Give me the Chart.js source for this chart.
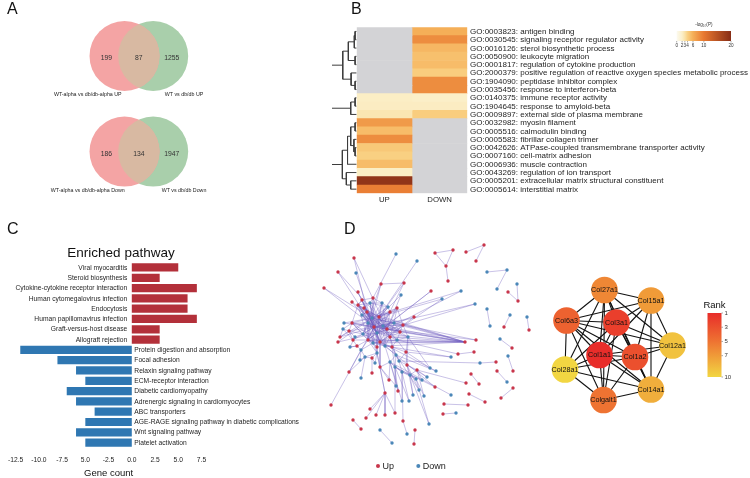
<!DOCTYPE html>
<html>
<head>
<meta charset="utf-8">
<script src="https://cdn.jsdelivr.net/npm/chart.js@4.4.1/dist/chart.umd.min.js"></script>
<style>
  html, body { margin: 0; padding: 0; background: #fff; }
  #fig { position: relative; width: 750px; height: 478px; overflow: hidden;
         font-family: 'Liberation Sans', Arial, Helvetica, sans-serif; }
  #fig canvas { position: absolute; }
  .tag { position: absolute; font-size: 16px; line-height: 16px; color: #111; }
</style>
</head>
<body>
<div id="fig">
  <canvas id="venn"   width="330" height="235" style="left:0;top:0"></canvas>
  <canvas id="dendro" width="25"  height="235" style="left:332px;top:0"></canvas>
  <canvas id="heat"   width="394" height="235" style="left:356px;top:0"></canvas>
  <canvas id="path"   width="310" height="240" style="left:0;top:240px"></canvas>
  <canvas id="net"    width="250" height="238" style="left:300px;top:240px"></canvas>
  <canvas id="hub"    width="210" height="160" style="left:540px;top:260px"></canvas>
  <div class="tag" style="left:7px;top:1px">A</div>
  <div class="tag" style="left:351px;top:1px">B</div>
  <div class="tag" style="left:7px;top:221px">C</div>
  <div class="tag" style="left:344px;top:221px">D</div>
</div>
<script>
// ── Panel A: Venn counts ─────────────────────────
const VENN_LEFT_NAMES  = ['WT-alpha vs db/db-alpha UP', 'WT-alpha vs db/db-alpha Down'];
const VENN_RIGHT_NAMES = ['WT vs db/db UP', 'WT vs db/db Down'];
const VENN_ONLY_LEFT   = [199, 186];
const VENN_SHARED      = [87, 134];
const VENN_ONLY_RIGHT  = [1255, 1947];

// ── Panel B: GO enrichment heatmap (-log10 P, null = not enriched) ──
const GO_TERMS = [
  'GO:0003823: antigen binding',
  'GO:0030545: signaling receptor regulator activity',
  'GO:0016126: sterol biosynthetic process',
  'GO:0050900: leukocyte migration',
  'GO:0001817: regulation of cytokine production',
  'GO:2000379: positive regulation of reactive oxygen species metabolic process',
  'GO:1904090: peptidase inhibitor complex',
  'GO:0035456: response to interferon-beta',
  'GO:0140375: immune receptor activity',
  'GO:1904645: response to amyloid-beta',
  'GO:0009897: external side of plasma membrane',
  'GO:0032982: myosin filament',
  'GO:0005516: calmodulin binding',
  'GO:0005583: fibrillar collagen trimer',
  'GO:0042626: ATPase-coupled transmembrane transporter activity',
  'GO:0007160: cell-matrix adhesion',
  'GO:0006936: muscle contraction',
  'GO:0043269: regulation of ion transport',
  'GO:0005201: extracellular matrix structural constituent',
  'GO:0005614: interstitial matrix'
];
const HEAT_COLUMNS = ['UP', 'DOWN'];
const UP_LOGP   = [null, null, null, null, null, null, null, null, 2.1, 2.2, 2.7, 7.5, 5.2, 8.5, 4.5, 4.0, 5.2, 2.1, 19, 9.5];
const DOWN_LOGP = [6.0, 8.5, 5.5, 5.0, 5.2, 4.2, 8.5, 8.5, 2.0, 2.2, 4.2, null, null, null, null, null, null, null, null, null];
const LOGP_TICKS = [0, 2, 3, 4, 6, 10, 20];
// dendrogram merges: [child, child, height]; leaves are rows 0-19, merges numbered from 20
const DENDRO_MERGES = [
  [0, 1, 0.4], [20, 2, 0.6], [3, 4, 0.4], [21, 22, 2.1], [6, 7, 0.4], [5, 24, 1.4], [23, 25, 3.5],
  [8, 9, 0.4], [27, 10, 1.5],
  [11, 12, 0.4], [14, 15, 0.4], [13, 30, 0.7], [29, 31, 1.5], [18, 19, 1.5], [32, 16, 2.3], [17, 33, 2.6], [34, 35, 3.6],
  [26, 28, 8], [37, 36, 9]
];

// ── Panel C: enriched pathways ───────────────────
const PATHWAYS = [
  'Viral myocarditis', 'Steroid biosynthesis', 'Cytokine-cytokine receptor interaction',
  'Human cytomegalovirus infection', 'Endocytosis', 'Human papillomavirus infection',
  'Graft-versus-host disease', 'Allograft rejection',
  'Protein digestion and absorption', 'Focal adhesion', 'Relaxin signaling pathway',
  'ECM-receptor interaction', 'Diabetic cardiomyopathy', 'Adrenergic signaling in cardiomyocytes',
  'ABC transporters', 'AGE-RAGE signaling pathway in diabetic complications',
  'Wnt signaling pathway', 'Platelet activation'
];
const GENE_COUNTS = [5, 3, 7, 6, 6, 7, 3, 3, -12, -8, -6, -5, -7, -6, -4, -5, -6, -5];
const COUNT_TICKS = ['-12.5', '-10.0', '-7.5', '5.0', '-2.5', '0.0', '2.5', '5.0', '7.5'];

// ── Panel D: PPI network (layout coordinates) ────
const NET_NODES = [
  ['p0',24,48,'u'],['p1',38,32,'u'],['p2',54,18,'u'],['p3',56,33,'d'],['p4',96,14,'d'],['p5',117,21,'d'],
  ['p6',81,44,'u'],['p7',104,43,'u'],['p8',58,52,'u'],['p9',101,55,'d'],['p10',52,62,'u'],['p11',131,51,'u'],
  ['p12',114,77,'u'],['p13',44,83,'d'],['p14',38,102,'u'],['p15',135,13,'u'],['p16',153,10,'u'],['p17',146,26,'u'],
  ['p18',148,41,'u'],['p19',166,12,'u'],['p20',184,5,'u'],['p21',176,21,'u'],['p22',187,32,'d'],['p23',207,30,'d'],
  ['p24',197,49,'d'],['p25',217,44,'d'],['p26',208,52,'u'],['p27',218,61,'u'],['p28',161,51,'d'],['p29',142,59,'d'],
  ['p30',175,64,'d'],['p31',187,69,'d'],['p32',190,86,'d'],['p33',210,75,'d'],['p34',204,87,'u'],['p35',227,77,'d'],
  ['p36',229,90,'u'],['p37',165,102,'u'],['p38',176,100,'u'],['p39',200,99,'d'],['p40',212,108,'u'],['p41',158,114,'u'],
  ['p42',174,112,'u'],['p43',151,117,'d'],['p44',180,123,'d'],['p45',196,122,'u'],['p46',136,131,'d'],['p47',171,134,'u'],
  ['p48',179,144,'u'],['p49',197,131,'u'],['p50',207,142,'d'],['p51',166,143,'u'],['p52',135,147,'u'],['p53',151,155,'d'],
  ['p54',169,154,'u'],['p55',185,162,'u'],['p56',213,148,'u'],['p57',201,158,'u'],['p58',144,164,'u'],['p59',168,165,'u'],
  ['p60',143,174,'u'],['p61',156,173,'d'],['p62',208,116,'d'],['p63',213,131,'u'],['p64',49,132,'u'],['p65',72,133,'u'],
  ['p66',61,138,'d'],['p67',89,140,'u'],['p68',31,165,'u'],['p69',85,153,'u'],['p70',70,169,'u'],['p71',76,175,'u'],
  ['p72',85,175,'u'],['p73',95,173,'u'],['p74',53,180,'u'],['p75',66,178,'u'],['p76',61,189,'u'],['p77',80,190,'d'],
  ['p78',92,203,'d'],['p79',103,181,'u'],['p80',107,194,'d'],['p81',115,190,'u'],['p82',114,204,'u'],['p83',129,184,'d'],
  ['p84',102,161,'d'],['p85',109,161,'d'],['p86',113,155,'d'],['p87',124,156,'d'],['p88',119,150,'d'],['p89',96,146,'d'],
  ['p90',127,137,'d'],['p91',130,128,'d'],['p92',98,151,'u'],
  ['c0',58,65,'u'],['c1',67,72,'u'],['c2',72,78,'d'],['c3',79,77,'u'],['c4',68,83,'d'],['c5',74,87,'u'],
  ['c6',83,86,'d'],['c7',87,89,'u'],['c8',77,93,'d'],['c9',90,97,'u'],['c10',63,94,'d'],['c11',49,91,'u'],
  ['c12',43,89,'d'],['c13',52,83,'u'],['c14',53,100,'u'],['c15',57,106,'u'],['c16',61,110,'d'],['c17',68,100,'u'],
  ['c18',73,103,'d'],['c19',80,102,'u'],['c20',85,106,'d'],['c21',92,107,'u'],['c22',97,100,'d'],['c23',100,92,'u'],
  ['c24',94,83,'d'],['c25',103,85,'u'],['c26',108,97,'d'],['c27',77,113,'d'],['c28',72,118,'u'],['c29',65,117,'d'],
  ['c30',96,115,'d'],['c31',99,121,'d'],['c32',106,112,'u'],['c33',90,122,'d'],['c34',95,127,'d'],['c35',107,125,'u'],
  ['c36',102,132,'d'],['c37',110,135,'d'],['c38',117,130,'u'],['c39',116,139,'d'],['c40',122,140,'d'],['c41',80,127,'u'],
  ['c42',75,123,'d'],['c43',64,68,'u'],['c44',62,75,'d'],['c45',90,72,'u'],['c46',88,67,'d'],['c47',97,68,'u'],
  ['c48',70,63,'d'],['c49',73,58,'u'],['c50',62,60,'u'],['c51',82,63,'d'],['c52',77,107,'u'],['c53',55,97,'d'],
  ['c54',50,107,'d'],['c55',60,120,'d'],['c56',40,97,'u']
];
// each entry: a node followed by the nodes it is linked to
const NET_LINKS = [
  'p15 p16 p17', 'p16 p17', 'p17 p18', 'p19 p20', 'p20 p21', 'p22 p23', 'p23 p24', 'p25 p27', 'p26 p27',
  'p31 p32', 'p33 p34', 'p35 p36', 'p39 p40', 'p62 p63', 'p44 p45 c31', 'p41 p42 c22', 'p47 p48', 'p49 p50',
  'p54 p55', 'p56 p57', 'p58 p59', 'p60 p61', 'p77 p78', 'p79 p80 c36', 'p81 p82', 'p74 p76',
  'p0 c5 c2', 'p1 c8 c3', 'p2 c1 c7', 'p3 c5', 'p4 c49', 'p5 c3', 'p6 p7 c2 c10', 'p7 c3 c6', 'p8 c5 c1',
  'p9 c7 c3', 'p10 c8 c2', 'p11 c8 c17', 'p12 c5 c19', 'p13 c2 c7', 'p14 c2 c8', 'p28 c7 c2', 'p29 c3 c19',
  'p30 c8 c5', 'p37 c1 c2 c3 c5 c6 c7 c8 c9 c17 c18 c19 c20 c22 c23 c25', 'p38 c7 c25', 'p43 c21 c32',
  'p46 c19 c30', 'p52 c20 c34', 'p53 c33', 'p51 c38', 'p68 c5', 'p64 c16 c29', 'p65 c28', 'p66 c29',
  'p67 c41 c33', 'p69 c41 c27 p70 p71 p72 p73 p75', 'p83 c37 c39', 'p84 c33 c36', 'p85 c34 c36',
  'p86 c37 c35', 'p87 c38 c39', 'p88 c35 c30', 'p89 c34 c41', 'p90 c35 c38', 'p91 c32 c26', 'p92 c33 c21',
  'p73 c34',
  'c0 c1 c2 c5 c8 c13 c48 c50 c3 c7 c17 c19', 'c1 c2 c3 c4 c5 c7 c44 c8 c9 c19 c23',
  'c2 c3 c4 c5 c6 c8 c9 c17 c19 c24 c7 c18 c20 c22 c25', 'c3 c5 c6 c7 c8 c45 c46 c51 c9 c17 c19 c23 c24',
  'c4 c5 c8 c10 c13 c17 c7 c19 c18', 'c5 c6 c7 c8 c9 c10 c11 c17 c18 c19 c24 c25',
  'c6 c7 c8 c9 c23 c24 c25 c17 c19 c20', 'c7 c8 c9 c19 c20 c22 c23 c26', 'c8 c9 c10 c17 c18 c19 c27 c23 c24 c25',
  'c9 c19 c20 c21 c22 c23 c30 c24 c25 c26', 'c10 c11 c13 c14 c17 c53 c19 c5 c2', 'c11 c12 c13 c14 c56',
  'c12 c13 c14', 'c13 c5 c2 c17 c19 c7', 'c14 c15 c17 c53', 'c15 c16 c17 c54', 'c16 c17 c18 c29 c55',
  'c17 c18 c19 c52 c27 c20 c21 c22', 'c18 c19 c20 c27 c52', 'c19 c20 c21 c22 c41', 'c20 c21 c30 c33',
  'c21 c22 c30 c31 c32', 'c22 c23 c26 c32', 'c23 c24 c25 c26', 'c24 c25 c47', 'c25 c26 c47',
  'c26 c32 c35', 'c27 c28 c29 c42 c41', 'c28 c29 c42', 'c30 c31 c33 c34', 'c31 c32 c35 c36', 'c32 c35',
  'c33 c34 c36 c41', 'c34 c36 c37', 'c35 c37 c38', 'c36 c37 c39', 'c37 c38 c39 c40', 'c38 c40',
  'c43 c0 c1 c2 c5 c48 c3 c7 c8', 'c44 c1 c2 c4 c5 c7 c8', 'c45 c46 c47 c3 c7 c5 c8 c2', 'c46 c51 c48 c2 c5',
  'c47 c5 c2 c7', 'c48 c49 c51 c2 c5 c7 c8', 'c49 c50 c51 c2 c5', 'c50 c0 c2 c5 c8', 'c51 c7 c5 c8 c2',
  'c53 c54 c11', 'c54 c15', 'c55 c29', 'c56 c12 c2 c5'
];
const NET_GROUPS = ['Up', 'Down'];

// hub genes (top 10 by rank)
const HUB_GENES = ['Col27a1', 'Col15a1', 'Col6a3', 'Col3a1', 'Col12a1', 'Col1a1', 'Col1a2', 'Col28a1', 'Col14a1', 'Colgalt1'];
const HUB_X     = [64.5, 111, 26.5, 76.5, 132.5, 59.5, 95, 25, 111, 63.5];
const HUB_Y     = [30, 40.5, 60.5, 62.5, 85.5, 95, 97, 109.5, 129.5, 140];
const HUB_RANK  = [6, 7, 4, 2, 9, 1, 3, 10, 8, 5];
const HUB_LINKS = [
  'Col27a1 Col15a1 Col6a3 Col3a1 Col1a1 Col1a2 Col12a1 Col28a1 Colgalt1 Col14a1',
  'Col15a1 Col3a1 Col1a1 Col1a2 Col12a1 Col6a3 Col14a1',
  'Col6a3 Col3a1 Col1a1 Col1a2 Col12a1 Col28a1 Colgalt1 Col14a1',
  'Col3a1 Col1a1 Col1a2 Col12a1 Col28a1 Colgalt1 Col14a1',
  'Col1a1 Col1a2 Col12a1 Col28a1 Colgalt1 Col14a1',
  'Col1a2 Col12a1 Col28a1 Colgalt1 Col14a1',
  'Col28a1 Colgalt1 Col14a1', 'Colgalt1 Col14a1', 'Col12a1 Col14a1'
];
const RANK_TICKS = [1, 3, 5, 7, 10];

// ── styling ──────────────────────────────────────
const FONT = "'Liberation Sans', Arial, Helvetica, sans-serif";
const font = px => px + 'px ' + FONT;
const LOGP_STOPS = [[0, [252, 250, 240]], [2, [251, 239, 200]], [3, [250, 226, 168]], [4, [249, 208, 130]],
                    [6, [245, 175, 88]], [10, [232, 120, 48]], [20, [135, 45, 22]]];
const RANK_STOPS = [[1, [232, 45, 42]], [5, [238, 115, 50]], [10, [242, 214, 66]]];
const NA_GREY = '#d3d3d6';
const UP_RED = '#c8364b', DOWN_BLUE = '#4b87b8';

function rampColor(stops, v) {
  if (v <= stops[0][0]) return 'rgb(' + stops[0][1].join(',') + ')';
  for (let i = 1; i < stops.length; i++) {
    const [v1, c1] = stops[i], [v0, c0] = stops[i - 1];
    if (v <= v1) {
      const t = (v - v0) / (v1 - v0);
      return 'rgb(' + c0.map((c, k) => Math.round(c + t * (c1[k] - c))).join(',') + ')';
    }
  }
  return 'rgb(' + stops[stops.length - 1][1].join(',') + ')';
}
const logpColor = v => v == null ? NA_GREY : rampColor(LOGP_STOPS, v);

Chart.defaults.font.family = FONT;
Chart.defaults.animation = false;
Chart.defaults.responsive = false;
Chart.defaults.events = [];
Chart.defaults.layout.autoPadding = false;
Chart.defaults.plugins.legend.display = false;
Chart.defaults.plugins.tooltip.enabled = false;

// ── A: Venn diagrams ─────────────────────────────
const VENN_R = 35;          // circle radius, px
const VENN_STEP = 0.82;     // centre spacing, radii
const VENN_ROW = 2.73;      // spacing of the two diagrams, radii

new Chart(document.getElementById('venn'), {
  type: 'scatter',
  data: {
    datasets: [
      { data: VENN_ONLY_LEFT.map((_, i) => ({ x: 0, y: i * VENN_ROW })), pointBackgroundColor: '#f4a4a4' },
      { data: VENN_ONLY_RIGHT.map((_, i) => ({ x: VENN_STEP, y: i * VENN_ROW })), pointBackgroundColor: '#a9cfab' }
    ]
  },
  options: {
    datasets: { scatter: { pointRadius: VENN_R, pointBorderWidth: 0, clip: false } },
    layout: { padding: 0 },
    scales: {
      x: { display: false, min: -3.557, max: 5.871 },
      y: { display: false, min: -1.6, max: 5.114, reverse: true }
    }
  },
  plugins: [{
    id: 'vennText',
    afterDatasetsDraw(chart) {
      const { ctx } = chart, xs = chart.scales.x, ys = chart.scales.y;
      const left = chart.getDatasetMeta(0).data, right = chart.getDatasetMeta(1).data;
      left.forEach((p, i) => {
        const q = right[i];
        ctx.save();
        ctx.beginPath(); ctx.arc(p.x, p.y, VENN_R, 0, Math.PI * 2); ctx.clip();
        ctx.beginPath(); ctx.arc(q.x, q.y, VENN_R, 0, Math.PI * 2);
        ctx.fillStyle = '#d8b9a2'; ctx.fill();
        ctx.restore();

        const cy = i * VENN_ROW;
        ctx.save();
        ctx.textAlign = 'center'; ctx.textBaseline = 'middle';
        ctx.fillStyle = '#333'; ctx.font = font(6.8);
        ctx.fillText(VENN_ONLY_LEFT[i], xs.getPixelForValue(-0.52), ys.getPixelForValue(cy + 0.06));
        ctx.fillText(VENN_SHARED[i], xs.getPixelForValue(VENN_STEP / 2), ys.getPixelForValue(cy + 0.06));
        ctx.fillText(VENN_ONLY_RIGHT[i], xs.getPixelForValue(VENN_STEP + 0.53), ys.getPixelForValue(cy + 0.06));
        ctx.font = font(5.3); ctx.fillStyle = '#222';
        ctx.fillText(VENN_LEFT_NAMES[i], xs.getPixelForValue(-1.05), ys.getPixelForValue(cy + 1.1));
        ctx.fillText(VENN_RIGHT_NAMES[i], xs.getPixelForValue(1.7), ys.getPixelForValue(cy + 1.1));
        ctx.restore();
      });
    }
  }]
});

// ── B: dendrogram ────────────────────────────────
function dendroSegments() {
  const pos = GO_TERMS.map((_, i) => [0, i]);
  return DENDRO_MERGES.map(([a, b, h]) => {
    const A = pos[a], B = pos[b];
    pos.push([h, (A[1] + B[1]) / 2]);
    return [{ x: A[0], y: A[1] }, { x: h, y: A[1] }, { x: h, y: B[1] }, { x: B[0], y: B[1] }];
  });
}

new Chart(document.getElementById('dendro'), {
  type: 'scatter',
  data: {
    datasets: dendroSegments().map(seg => ({
      data: seg, showLine: true, borderColor: '#3c3c3c', borderWidth: 1, pointRadius: 0
    }))
  },
  options: {
    layout: { padding: { left: 0, right: 0.3, top: 27.3, bottom: 41.7 } },
    scales: {
      x: { display: false, min: 0, max: 6.2, reverse: true },
      y: { display: false, min: -0.5, max: GO_TERMS.length - 0.5, reverse: true }
    }
  }
});

// ── B: heatmap ───────────────────────────────────
new Chart(document.getElementById('heat'), {
  type: 'bar',
  data: {
    labels: GO_TERMS,
    datasets: [
      { label: HEAT_COLUMNS[0], data: GO_TERMS.map(() => 1), backgroundColor: UP_LOGP.map(logpColor) },
      { label: HEAT_COLUMNS[1], data: GO_TERMS.map(() => 1), backgroundColor: DOWN_LOGP.map(logpColor) }
    ]
  },
  options: {
    indexAxis: 'y',
    datasets: { bar: { barPercentage: 1, categoryPercentage: 1, borderWidth: 0 } },
    layout: { padding: { left: 0.7, right: 282.7, top: 27.3, bottom: 41.7 } },
    scales: {
      x: { display: false, stacked: true, min: 0, max: 2 },
      y: { display: false, stacked: true }
    }
  },
  plugins: [{
    id: 'heatText',
    afterDraw(chart) {
      const { ctx, chartArea } = chart, xs = chart.scales.x, ys = chart.scales.y;
      ctx.save();
      ctx.fillStyle = '#1e1e1e'; ctx.textBaseline = 'middle'; ctx.textAlign = 'left';
      ctx.font = font(8);
      GO_TERMS.forEach((t, i) => ctx.fillText(t, chartArea.right + 2.7, ys.getPixelForValue(i) + 0.3));
      ctx.textAlign = 'center'; ctx.font = font(7.8);
      HEAT_COLUMNS.forEach((c, j) => ctx.fillText(c, xs.getPixelForValue(j + 0.5), chartArea.bottom + 7));

      // colour key
      const kx = 320.7, kw = 54.3, ky = 31, kh = 10, vmax = LOGP_STOPS[LOGP_STOPS.length - 1][0];
      const grad = ctx.createLinearGradient(kx, 0, kx + kw, 0);
      LOGP_STOPS.forEach(([v, c]) => grad.addColorStop(v / vmax, 'rgb(' + c.join(',') + ')'));
      ctx.fillStyle = grad; ctx.fillRect(kx, ky, kw, kh);
      ctx.fillStyle = '#333'; ctx.font = font(4.6);
      ctx.fillText('-log\u2081\u2080(P)', kx + kw / 2, ky - 6.5);
      ctx.strokeStyle = '#555'; ctx.lineWidth = 0.5;
      LOGP_TICKS.forEach(v => {
        const x = kx + v / vmax * kw;
        ctx.beginPath(); ctx.moveTo(x, ky + kh); ctx.lineTo(x, ky + kh + 1.5); ctx.stroke();
        ctx.fillText(String(v), x, ky + kh + 5.2);
      });
      ctx.restore();
    }
  }]
});

// ── C: enriched pathway bars ─────────────────────
new Chart(document.getElementById('path'), {
  type: 'bar',
  data: {
    labels: PATHWAYS,
    datasets: [{
      data: GENE_COUNTS,
      backgroundColor: GENE_COUNTS.map(v => v > 0 ? '#b3303a' : '#2f77b2'),
      barPercentage: 0.8, categoryPercentage: 1, borderWidth: 0
    }]
  },
  options: {
    indexAxis: 'y',
    layout: { padding: { left: 8, right: 108.5, top: 22.3, bottom: 0.8 } },
    scales: {
      x: {
        min: -12.5, max: 7.5,
        grid: { display: false, drawTicks: false }, border: { display: false },
        ticks: {
          stepSize: 2.5, autoSkip: false, maxRotation: 0, padding: 8,
          color: '#222', font: { size: 6.7 },
          callback: (v, i) => COUNT_TICKS[i]
        },
        title: { display: true, text: 'Gene count', color: '#111', font: { size: 9.5 }, padding: { top: -4, bottom: 0 } }
      },
      y: { display: false }
    }
  },
  plugins: [{
    id: 'pathText',
    afterDatasetsDraw(chart) {
      const { ctx } = chart, x0 = chart.scales.x.getPixelForValue(0);
      ctx.save();
      ctx.font = font(6.7); ctx.fillStyle = '#1e1e1e'; ctx.textBaseline = 'middle';
      chart.getDatasetMeta(0).data.forEach((bar, i) => {
        const up = GENE_COUNTS[i] > 0;
        ctx.textAlign = up ? 'right' : 'left';
        ctx.fillText(PATHWAYS[i], up ? x0 - 4.5 : x0 + 2.5, bar.y + 0.3);
      });
      ctx.font = font(13.5); ctx.textAlign = 'center'; ctx.fillStyle = '#111';
      ctx.fillText('Enriched pathway', 121, 13.5);
      ctx.restore();
    }
  }]
});

// ── D: PPI network ───────────────────────────────
function linkPairs(lines) {
  const out = [];
  lines.forEach(l => { const [a, ...rest] = l.split(' '); rest.forEach(b => out.push([a, b])); });
  return out;
}
const nodeAt = {};
NET_NODES.forEach(([id, x, y, t]) => { nodeAt[id] = { x, y, t }; });

const netEdgeSets = linkPairs(NET_LINKS).map(([a, b]) => ({
  data: [{ x: nodeAt[a].x, y: nodeAt[a].y }, { x: nodeAt[b].x, y: nodeAt[b].y }],
  showLine: true, borderColor: 'rgba(112, 92, 190, 0.5)', borderWidth: 0.75, pointRadius: 0, order: 1
}));
const netNodeSets = ['u', 'd'].map((t, k) => ({
  label: NET_GROUPS[k],
  data: NET_NODES.filter(n => n[3] === t).map(n => ({ x: n[1], y: n[2] })),
  pointRadius: 1.7, pointBorderWidth: 0, pointBackgroundColor: t === 'u' ? UP_RED : DOWN_BLUE, order: 0
}));

new Chart(document.getElementById('net'), {
  type: 'scatter',
  data: { datasets: [...netNodeSets, ...netEdgeSets] },
  options: {
    layout: { padding: 0 },
    scales: {
      x: { display: false, min: 0, max: 250 },
      y: { display: false, min: 0, max: 238, reverse: true }
    }
  },
  plugins: [{
    id: 'netLegend',
    afterDraw(chart) {
      const { ctx } = chart;
      ctx.save();
      ctx.font = font(9); ctx.fillStyle = '#222'; ctx.textBaseline = 'middle'; ctx.textAlign = 'left';
      [[78, UP_RED], [118.3, DOWN_BLUE]].forEach(([x, c], k) => {
        ctx.beginPath(); ctx.arc(x, 226, 2, 0, Math.PI * 2); ctx.fillStyle = c; ctx.fill();
        ctx.fillStyle = '#222'; ctx.fillText(NET_GROUPS[k], x + 4.5, 226.5);
      });
      ctx.restore();
    }
  }]
});

// ── D: hub gene network ──────────────────────────
const hubIdx = Object.fromEntries(HUB_GENES.map((g, i) => [g, i]));
const hubEdgeSets = linkPairs(HUB_LINKS).map(([a, b]) => ({
  data: [{ x: HUB_X[hubIdx[a]], y: HUB_Y[hubIdx[a]] }, { x: HUB_X[hubIdx[b]], y: HUB_Y[hubIdx[b]] }],
  showLine: true, borderColor: '#111', borderWidth: 1.1, pointRadius: 0, order: 1
}));

new Chart(document.getElementById('hub'), {
  type: 'scatter',
  data: {
    datasets: [{
      data: HUB_GENES.map((_, i) => ({ x: HUB_X[i], y: HUB_Y[i] })),
      pointRadius: 13.3, pointBorderWidth: 0,
      pointBackgroundColor: HUB_RANK.map(r => rampColor(RANK_STOPS, r)), order: 0, clip: false
    }, ...hubEdgeSets]
  },
  options: {
    layout: { padding: 0 },
    scales: {
      x: { display: false, min: 0, max: 210 },
      y: { display: false, min: 0, max: 160, reverse: true }
    }
  },
  plugins: [{
    id: 'hubText',
    afterDraw(chart) {
      const { ctx } = chart;
      ctx.save();
      ctx.textAlign = 'center'; ctx.textBaseline = 'middle'; ctx.fillStyle = '#111'; ctx.font = font(7.2);
      chart.getDatasetMeta(0).data.forEach((p, i) => ctx.fillText(HUB_GENES[i], p.x, p.y + 0.3));

      // rank colour bar
      const bx = 167.5, bw = 14, by = 53, bh = 64;
      const r0 = RANK_STOPS[0][0], r1 = RANK_STOPS[RANK_STOPS.length - 1][0];
      const grad = ctx.createLinearGradient(0, by, 0, by + bh);
      RANK_STOPS.forEach(([v, c]) => grad.addColorStop((v - r0) / (r1 - r0), 'rgb(' + c.join(',') + ')'));
      ctx.fillStyle = grad; ctx.fillRect(bx, by, bw, bh);
      ctx.fillStyle = '#111'; ctx.font = font(9.5);
      ctx.fillText('Rank', bx + bw / 2, by - 8);
      ctx.font = font(6); ctx.textAlign = 'left'; ctx.fillStyle = '#333';
      ctx.strokeStyle = '#555'; ctx.lineWidth = 0.5;
      RANK_TICKS.forEach(v => {
        const y = by + (v - r0) / (r1 - r0) * bh;
        ctx.beginPath(); ctx.moveTo(bx + bw, y); ctx.lineTo(bx + bw + 1.5, y); ctx.stroke();
        ctx.fillText(String(v), bx + bw + 3, y);
      });
      ctx.restore();
    }
  }]
});
</script>
</body>
</html>
